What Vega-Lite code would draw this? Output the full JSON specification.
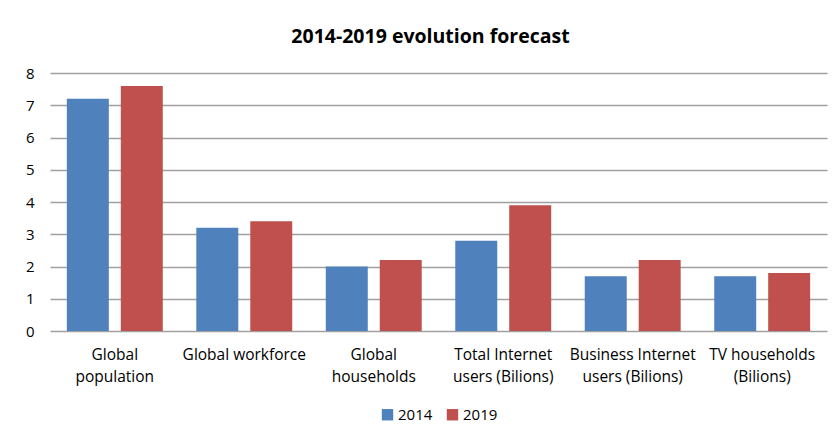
{
  "$schema": "https://vega.github.io/schema/vega-lite/v6.json",
  "width": 777,
  "height": 258,
  "autosize": "none",
  "padding": {"left": 50, "top": 73, "right": 10, "bottom": 106},
  "background": "white",
  "title": {
    "text": "2014-2019 evolution forecast",
    "font": "Open Sans",
    "fontSize": 19.5,
    "fontWeight": "bold",
    "color": "#000000",
    "anchor": "middle",
    "dx": -8,
    "offset": 19
  },
  "data": {
    "values": [
      {"category": "Global population", "year": "2014", "value": 7.2},
      {"category": "Global population", "year": "2019", "value": 7.6},
      {"category": "Global workforce", "year": "2014", "value": 3.2},
      {"category": "Global workforce", "year": "2019", "value": 3.4},
      {"category": "Global households", "year": "2014", "value": 2.0},
      {"category": "Global households", "year": "2019", "value": 2.2},
      {"category": "Total Internet users (Bilions)", "year": "2014", "value": 2.8},
      {"category": "Total Internet users (Bilions)", "year": "2019", "value": 3.9},
      {"category": "Business Internet users (Bilions)", "year": "2014", "value": 1.7},
      {"category": "Business Internet users (Bilions)", "year": "2019", "value": 2.2},
      {"category": "TV households (Bilions)", "year": "2014", "value": 1.7},
      {"category": "TV households (Bilions)", "year": "2019", "value": 1.8}
    ]
  },
  "mark": {"type": "bar"},
  "encoding": {
    "x": {
      "field": "category",
      "type": "nominal",
      "sort": null,
      "scale": {"paddingInner": 0.259, "paddingOuter": 0.13},
      "axis": {
        "title": null,
        "labelAngle": 0,
        "ticks": false,
        "domain": false,
        "labelFont": "Open Sans",
        "labelFontSize": 15.5,
        "labelColor": "#000000",
        "labelPadding": 16,
        "labelLineHeight": 22,
        "labelOverlap": false,
        "labelExpr": "datum.value == 'Global population' ? ['Global', 'population'] : datum.value == 'Global households' ? ['Global', 'households'] : datum.value == 'Total Internet users (Bilions)' ? ['Total Internet', 'users (Bilions)'] : datum.value == 'Business Internet users (Bilions)' ? ['Business Internet', 'users (Bilions)'] : datum.value == 'TV households (Bilions)' ? ['TV households', '(Bilions)'] : datum.value"
      }
    },
    "xOffset": {
      "field": "year",
      "type": "nominal",
      "scale": {"paddingInner": 0.222, "paddingOuter": 0}
    },
    "y": {
      "field": "value",
      "type": "quantitative",
      "scale": {"domain": [0, 8], "nice": false},
      "axis": {
        "title": null,
        "values": [0, 1, 2, 3, 4, 5, 6, 7, 8],
        "labelOverlap": false,
        "ticks": false,
        "domain": false,
        "grid": true,
        "gridColor": "#a0a0a0",
        "gridWidth": 1.5,
        "labelFont": "Open Sans",
        "labelFontSize": 15,
        "labelColor": "#000000",
        "labelPadding": 16
      }
    },
    "color": {
      "field": "year",
      "type": "nominal",
      "scale": {"domain": ["2014", "2019"], "range": ["#4f81bd", "#c0504d"]},
      "legend": {
        "title": null,
        "orient": "bottom",
        "direction": "horizontal",
        "symbolType": "square",
        "symbolSize": 130,
        "symbolStrokeWidth": 0,
        "labelFont": "Open Sans",
        "labelFontSize": 15,
        "labelColor": "#000000",
        "labelOffset": 3,
        "columnPadding": 12,
        "offset": 22
      }
    }
  },
  "config": {
    "view": {"stroke": null},
    "legend": {"layout": {"bottom": {"anchor": "middle"}}}
  }
}
